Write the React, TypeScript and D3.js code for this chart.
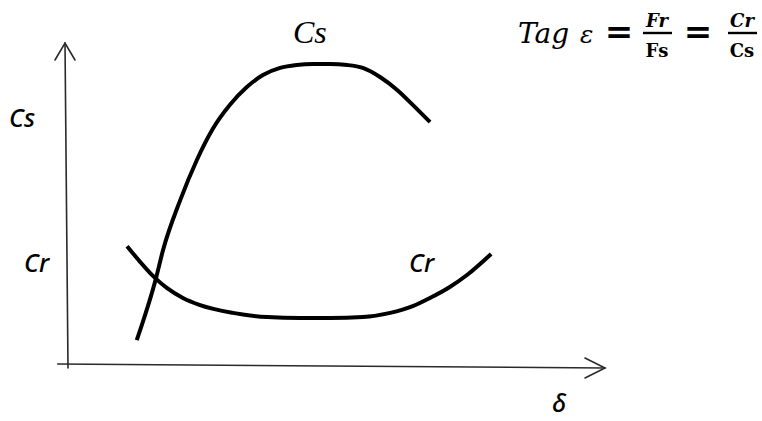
import React from "react";
import * as d3 from "d3";

// Curve data (δ on 0–100, coefficient on 0–100)
const csDelta = [12.8, 16.4, 17.7, 20.9, 24.0, 27.0, 30.2, 33.3, 36.3, 39.5, 42.6, 45.6, 48.8, 52.0, 54.9, 58.1, 61.3, 64.2, 67.4];
const csValue = [8.3, 27.5, 36.1, 51.5, 63.9, 73.6, 81.0, 86.4, 90.1, 92.3, 93.2, 93.5, 93.5, 93.2, 92.3, 89.5, 85.5, 80.9, 75.6];
const crDelta = [11.0, 16.2, 18.4, 21.4, 24.6, 30.7, 37.1, 43.2, 48.8, 54.9, 60.0, 64.2, 67.4, 71.1, 74.3, 78.8];
const crValue = [37.3, 27.5, 24.4, 21.3, 19.1, 16.7, 15.4, 15.1, 15.1, 15.4, 16.7, 18.8, 21.3, 24.7, 28.4, 34.9];

const W = 762;
const H = 421;

export default function App() {
  const x = d3.scaleLinear().domain([0, 100]).range([68, 605]);
  const y = d3.scaleLinear().domain([0, 100]).range([367, 43]);

  const line = d3
    .line<[number, number]>()
    .x((d) => x(d[0]))
    .y((d) => y(d[1]))
    .curve(d3.curveMonotoneX);

  const csPts = csDelta.map((d, i) => [d, csValue[i]] as [number, number]);
  const crPts = crDelta.map((d, i) => [d, crValue[i]] as [number, number]);

  const sans = "'Noto Sans', 'Open Sans', sans-serif";
  const serif = "'Liberation Serif', 'DejaVu Serif', serif";
  const math = "'DejaVu Serif', serif";
  const axisColor = "#2a2a2a";

  const x0 = x(0);
  const y0 = y(0);
  const yTop = y(100);
  const xEnd = x(100);

  return (
    <svg
      width={W}
      height={H}
      style={{ position: "absolute", left: 0, top: 0, background: "#fff" }}
    >
      <rect width={W} height={H} fill="#fff" />
      {/* axes */}
      <g stroke={axisColor} strokeWidth={1.6} fill="none" strokeLinecap="round">
        <line x1={x0} y1={y0 + 1} x2={x0 - 3} y2={yTop} />
        <polyline points={`${x0 - 13},${yTop + 17} ${x0 - 3},${yTop} ${x0 + 7},${yTop + 17}`} />
        <line x1={x(-1.9)} y1={y0 - 3} x2={xEnd} y2={y0 + 1} />
        <polyline points={`${xEnd - 20},${y0 - 9} ${xEnd},${y0 + 1} ${xEnd - 20},${y0 + 11}`} />
      </g>
      {/* curves */}
      <path d={line(csPts) || ""} fill="none" stroke="#000" strokeWidth={4} strokeLinecap="butt" />
      <path d={line(crPts) || ""} fill="none" stroke="#000" strokeWidth={4} strokeLinecap="butt" />

      {/* labels */}
      <text x={9} y={127} fontFamily={sans} fontStyle="italic" fontWeight={500} fontSize={25} fill="#000">Cs</text>
      <text x={24} y={272} fontFamily={sans} fontStyle="italic" fontWeight={500} fontSize={25} fill="#000">Cr</text>
      <text x={409} y={272} fontFamily={sans} fontStyle="italic" fontWeight={500} fontSize={25} fill="#000">Cr</text>
      <text x={293} y={43} fontFamily={serif} fontStyle="italic" fontSize={32} fill="#000">Cs</text>
      <text x={552} y={412} fontFamily={sans} fontStyle="italic" fontWeight={500} fontSize={25} fill="#000">δ</text>

      {/* formula */}
      <text x={518} y={43} fontFamily={math} fontStyle="italic" fontSize={28} fill="#000">Tag</text>
      <text x={580} y={43} fontFamily={math} fontStyle="italic" fontSize={25} fill="#000">ε</text>
      <text x={619} y={43} fontFamily={math} fontSize={34} fontWeight="bold" textAnchor="middle" fill="#000">=</text>
      <text x={657} y={27} fontFamily={math} fontStyle="italic" fontSize={18} fontWeight="bold" textAnchor="middle" fill="#000">Fr</text>
      <line x1={643} y1={33} x2={672} y2={33} stroke="#000" strokeWidth={2.4} />
      <text x={657} y={57} fontFamily={math} fontWeight="bold" fontSize={18} textAnchor="middle" fill="#000">Fs</text>
      <text x={698} y={43} fontFamily={math} fontSize={34} fontWeight="bold" textAnchor="middle" fill="#000">=</text>
      <text x={742} y={27} fontFamily={math} fontStyle="italic" fontSize={18} fontWeight="bold" textAnchor="middle" fill="#000">Cr</text>
      <line x1={728} y1={33} x2={757} y2={33} stroke="#000" strokeWidth={2.4} />
      <text x={742} y={57} fontFamily={math} fontWeight="bold" fontSize={18} textAnchor="middle" fill="#000">Cs</text>
    </svg>
  );
}
